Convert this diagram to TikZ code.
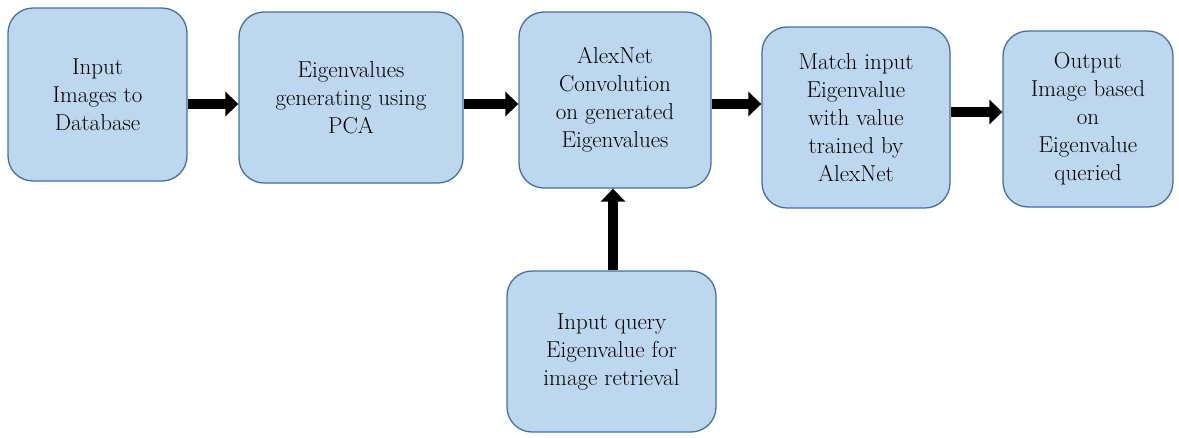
\documentclass[tikz,border=0pt]{standalone}
\usepackage{fontspec}
\usetikzlibrary{arrows.meta}
\definecolor{boxfill}{RGB}{189,215,238}
\definecolor{boxline}{RGB}{65,113,156}
\begin{document}
\begin{tikzpicture}[x=1pt,y=-1pt,
  blk/.style={draw=boxline,fill=boxfill,line width=1.3pt,rounded corners=25pt,
    align=center,inner sep=0pt,font=\rmfamily\fontsize{23}{28}\selectfont,text=black},
  flow/.style={line width=10pt,-{Triangle[width=24pt,length=13pt]}}]
\useasboundingbox (0,0) rectangle (1179,437);
\node[blk,minimum width=179pt,minimum height=173pt] (b1) at (97.5,94.5) {Input\\Images to\\Database};
\node[blk,minimum width=224pt,minimum height=171pt] (b2) at (351,97.5) {Eigenvalues\\generating using\\PCA};
\node[blk,minimum width=192pt,minimum height=176pt] (b3) at (615,100) {AlexNet\\Convolution\\on generated\\Eigenvalues};
\node[blk,minimum width=188pt,minimum height=181pt] (b4) at (856,117.5) {Match input\\Eigenvalue\\with value\\trained by\\AlexNet};
\node[blk,minimum width=170pt,minimum height=176pt] (b5) at (1088,119) {Output\\Image based\\on\\Eigenvalue\\queried};
\node[blk,minimum width=209pt,minimum height=161pt] (b6) at (611.5,351.5) {Input query\\Eigenvalue for\\image retrieval};
\draw[flow] (b1.east |- 0,104) -- (b2.west |- 0,104);
\draw[flow] (b2.east |- 0,104) -- (b3.west |- 0,104);
\draw[flow] (b3.east |- 0,104) -- (b4.west |- 0,104);
\draw[flow] (b4.east |- 0,112) -- (b5.west |- 0,112);
\draw[flow] (b6.north -| 613,0) -- (b3.south -| 613,0);
\end{tikzpicture}
\end{document}
